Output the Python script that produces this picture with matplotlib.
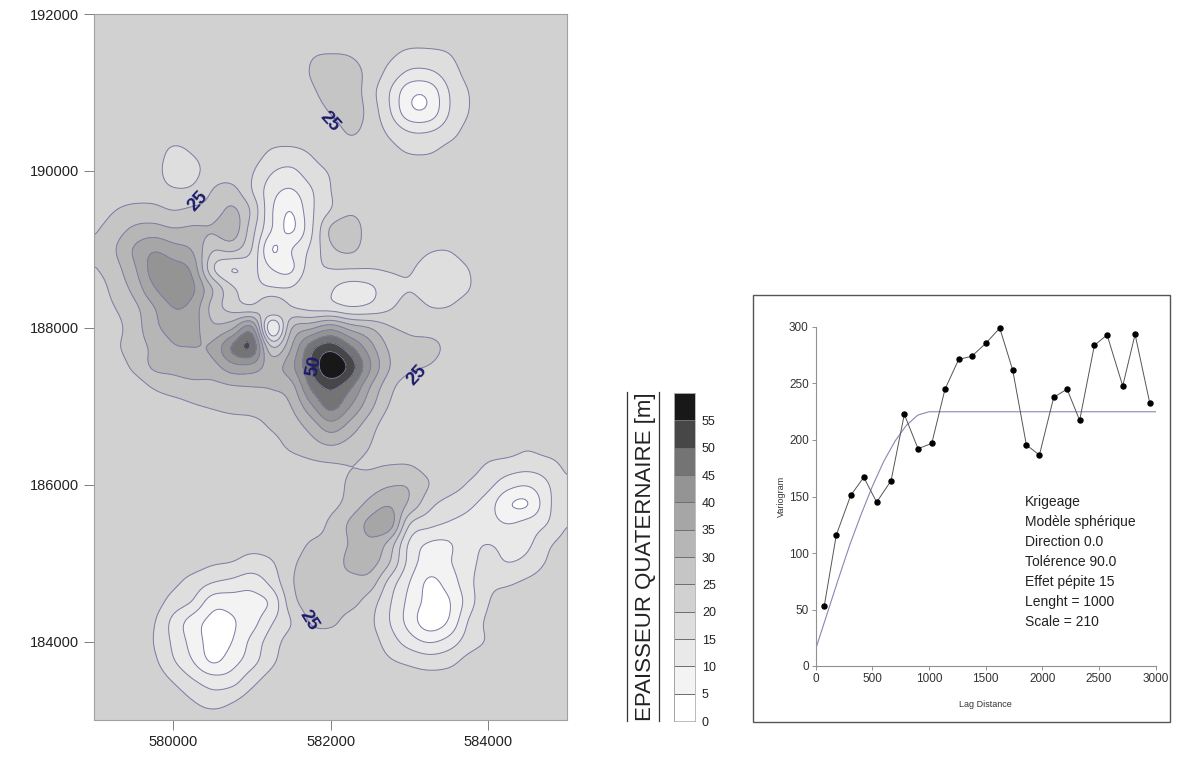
import numpy as np
import matplotlib
matplotlib.use('Agg')
from matplotlib import pyplot as plt
from matplotlib.colors import ListedColormap, BoundaryNorm
from matplotlib.lines import Line2D
from matplotlib.patches import Rectangle

plt.rcParams['font.family'] = ['Liberation Sans', 'DejaVu Sans']

# thickness every 250 m, top row is y=192000
grid_x = np.arange(579000, 585001, 250)
grid_y = np.arange(192000, 182999, -250)
thickness = [
    [22.5] * 25,
    [22.5] * 25,
    [22.5] * 11 + [24.5, 24.9, 24.5, 22.5, 21, 19, 19, 20, 22.5] + [22.5] * 5,
    [22.5] * 11 + [25.3, 28, 27.5, 23, 18.5, 14, 14, 17.5, 21.5] + [22.5] * 5,
    [22.5] * 11 + [24, 27.5, 28, 22, 15, 6.3, 6.3, 15, 20] + [22.5] * 5,
    [22.5] * 12 + [25.3, 28, 23, 15.5, 6.3, 6.3, 15, 20] + [22.5] * 5,
    [22.5] * 13 + [25.6, 23, 19, 15, 15, 18, 21.5] + [22.5] * 5,
    [22.5, 22.5, 22.5, 22.5, 19, 20.5, 22.5, 22.5, 22.5, 19.5, 19, 20.5, 22.5, 23, 22.5, 21.5, 19.5, 19.5, 21.5] + [22.5] * 6,
    [22.5, 22.5, 22.5, 22, 17.5, 18.5, 22.5, 22.5, 20.5, 15.5, 14, 18, 20.5] + [22.5] * 12,
    [22.5, 22.5, 22.5, 22.5, 20.6, 21, 25.2, 26.5, 20, 12, 9.5, 14.5, 20] + [22.5] * 12,
    [22.5, 24.8, 26.5, 26.5, 24.9, 26, 27, 31, 24, 10.5, 5, 14, 20, 24] + [22.5] * 11,
    [24.5, 27.5, 31, 32, 30.5, 31, 30.5, 33, 22, 10, 4, 14, 26, 28] + [22.5] * 11,
    [25.5, 29.5, 35.5, 39.5, 37, 34.5, 25.5, 26.5, 20, 4.5, 10, 16, 24, 26, 22.5, 22.5, 22.5, 20.5, 20.2, 22] + [22.5] * 5,
    [24.7, 28, 34, 42, 42, 38.5, 20.5, 14.5, 16.5, 10, 9, 18, 20, 20, 20, 20.5, 20.5, 18, 18, 20] + [22.5] * 5,
    [22.5, 26.5, 31.5, 39.5, 43, 41, 30, 21, 17, 15.5, 15.5, 19.5, 15.5, 13, 14, 18, 19.8, 18, 18, 19.8] + [22.5] * 5,
    [22.5, 24.8, 28.5, 34.5, 40, 38, 28, 23, 21.5, 25, 20.5, 18.5, 17.5, 15.5, 16.5, 19.5, 22, 20.2, 20.2, 22] + [22.5] * 5,
    [22.5, 23.5, 27.5, 33.5, 37, 37, 31, 34, 42, 9, 30, 34, 38.5, 33, 30, 25.5, 24] + [22.5] * 8,
    [22.5, 24, 27.5, 31, 34.5, 35, 36, 46, 50, 25, 35, 48, 53, 46, 37, 29, 26.5, 27, 23.5] + [22.5] * 6,
    [22.5, 22.5, 26, 30.8, 31.5, 32.5, 33, 38, 38, 33, 38.5, 50, 60, 53, 40.5, 30, 26, 24.7] + [22.5] * 7,
    [22.5, 22.5, 22.5, 25.5, 27.5, 28.5, 28.5, 29.5, 30, 30.5, 33, 46, 51, 46, 35, 26.5] + [22.5] * 9,
    [22.5, 22.5, 22.5, 22.5, 23, 24.5, 25.5, 26.5, 26.5, 27, 30, 39, 47, 40, 31.5, 24.5] + [22.5] * 9,
    [22.5] * 7 + [23, 23.8, 25.5, 27.5, 32, 38, 33, 27] + [22.5] * 10,
    [22.5] * 9 + [23.5, 26, 28, 30, 28, 25, 22.5, 22.5, 22.5, 22.5, 22.5, 22.5, 22.5, 20.8, 22.5, 22.5],
    [22.5] * 10 + [23, 24, 24.5, 25, 24.5, 25, 25, 23, 22.5, 22, 19.5, 18, 17, 18, 21],
    [22.5] * 13 + [26, 27.5, 29.5, 29.5, 25, 22.5, 19.5, 16.5, 12, 10.5, 14.5, 19.5],
    [22.5] * 12 + [23.5, 27, 31.5, 34.5, 29, 21.5, 18, 16, 12.5, 5.5, 4.5, 13.5, 19.5],
    [22.5] * 11 + [22.5, 26, 31, 36.5, 38, 20, 16.5, 14.5, 13.5, 12, 10, 12, 15, 20],
    [22.5] * 7 + [22, 21.5, 22, 22.5, 25.5, 26.5, 30.5, 34, 28, 14, 9.5, 9.5, 13.5, 15, 13.5, 14, 19, 21.5],
    [22.5] * 5 + [22, 20.5, 19.8, 18, 19.5, 24, 27, 27, 31.5, 32, 25, 13, 7.5, 9.5, 13.5, 16.5, 15, 16.5, 20.5, 22.5],
    [22.5] * 4 + [21, 18, 15, 13.5, 12, 16.5, 24.5, 27, 28, 28, 27.5, 18, 10, 4, 7, 13.5, 18.5, 19.3, 21, 22.5, 22.5],
    [22.5] * 3 + [22, 18, 14.5, 7, 7, 8, 11, 23, 27, 27, 26.5, 22.5, 15.5, 8.5, 3.5, 4.5, 12.5, 19.8, 22.5, 22.5, 22.5, 22.5],
    [22.5] * 3 + [20.5, 13.5, 7.5, 3.5, 4.5, 8, 14.5, 20, 25.5, 26, 23, 21, 15, 8, 2, 5.5, 15.5, 21, 22.5, 22.5, 22.5, 22.5],
    [22.5] * 3 + [20, 14, 8, 3, 5, 11.5, 17.5, 22, 22.5, 22.5, 22.5, 22, 17.5, 12.5, 9.5, 12, 17.5, 20.5, 22.5, 22.5, 22.5, 22.5],
    [22.5] * 3 + [21, 15.5, 10, 4.2, 8, 13, 19, 22.5, 22.5, 22.5, 22.5, 22.5, 20.5, 19, 17.5, 18.5, 21.5, 22.5, 22.5, 22.5, 22.5, 22.5],
    [22.5] * 4 + [19.7, 15.5, 12.5, 13, 18.5, 22] + [22.5] * 6 + [22, 22, 22] + [22.5] * 6,
    [22.5] * 5 + [20, 17.5, 19.5, 22] + [22.5] * 16,
    [22.5] * 25,
]

levels = [0, 5, 10, 15, 20, 25, 30, 35, 40, 45, 50, 55, 60]
band_colors = ['#ffffff', '#f3f3f3', '#e9e9e9', '#dedede', '#d1d1d1', '#c5c5c5',
               '#b6b6b6', '#a6a6a6', '#949494', '#747474', '#474747', '#181818']

contour_labels = ['25', '25', '50', '25', '25']
label_x = [581990, 580314, 581787, 583095, 581724]
label_y = [190623, 189616, 187513, 187398, 184275]
label_rot = [-48, 48, 78, 48, -58]

# variogram points
lag = [76, 182, 309, 424, 538, 665, 782, 903, 1024, 1141, 1262, 1376, 1500,
       1624, 1738, 1859, 1974, 2100, 2218, 2329, 2459, 2571, 2709, 2818, 2947]
vario = [53.4, 116, 151, 167, 145, 164, 222.7, 192.3, 197, 245, 271.4, 274, 285.5,
         299, 262, 195.6, 186.7, 237.8, 245, 217.4, 283.8, 293, 247.8, 293.5, 233]
model_lag = [0, 100, 200, 300, 400, 500, 600, 700, 800, 900, 1000, 3000]
model_val = [15, 46, 77, 107, 134, 159, 181, 199, 213, 222, 225, 225]
notes = ['Krigeage', 'Modèle sphérique', 'Direction 0.0', 'Tolérence 90.0',
         'Effet pépite 15', 'Lenght = 1000', 'Scale = 210']

W, H = 1178, 765


def px_axes(fig, left, top, right, bottom):
    return fig.add_axes([left / W, 1 - bottom / H, (right - left) / W, (bottom - top) / H])


def resample_rows(z, n):
    # catmull-rom between grid rows, only to get round contour lines
    p = np.vstack([z[:1], z, z[-1:]])
    out = []
    for i in range(1, len(p) - 2):
        for t in np.arange(n) / n:
            out.append(0.5 * (2 * p[i] + (p[i + 1] - p[i - 1]) * t
                              + (2 * p[i - 1] - 5 * p[i] + 4 * p[i + 1] - p[i + 2]) * t ** 2
                              + (3 * p[i] - p[i - 1] - 3 * p[i + 1] + p[i + 2]) * t ** 3))
    out.append(z[-1])
    return np.array(out)


def soften(z, w):
    # short box filter over both directions to take the kinks out of the lines
    k = np.ones(w) / w
    z = np.pad(z, w, mode='edge')
    z = np.apply_along_axis(lambda r: np.convolve(r, k, mode='same'), 0, z)
    z = np.apply_along_axis(lambda r: np.convolve(r, k, mode='same'), 1, z)
    return z[w:-w, w:-w]


fig = plt.figure(figsize=(W / 100, H / 100), dpi=100)

# map
ax = px_axes(fig, 94.5, 14, 567, 720)
n = 8
z_fine = resample_rows(np.array(thickness, dtype=float), n)
z_fine = resample_rows(z_fine.T, n).T
z_fine = soften(soften(z_fine, 3), 3)
z_fine = np.clip(z_fine, 0.2, 59.8)
x_fine = np.linspace(grid_x[0], grid_x[-1], z_fine.shape[1])
y_fine = np.linspace(grid_y[0], grid_y[-1], z_fine.shape[0])
ax.contourf(x_fine, y_fine, z_fine, levels=levels, colors=band_colors)
ax.contour(x_fine, y_fine, z_fine, levels=levels[1:-1], colors='#7c7ca4', linewidths=0.7)
for s, lx, ly, r in zip(contour_labels, label_x, label_y, label_rot):
    ax.text(lx, ly, s, color='#1b1b6b', fontsize=13.5, fontweight='bold', rotation=r, ha='center', va='center')
ax.set_xlim(579000, 585000)
ax.set_ylim(183000, 192000)
ax.set_xticks([580000, 582000, 584000])
ax.set_yticks([184000, 186000, 188000, 190000, 192000])
ax.tick_params(length=7, width=0.7, color='#808080', labelsize=10.5, labelcolor='#222222', pad=4)
for sp in ax.spines.values():
    sp.set_color('#a0a0a0')
    sp.set_linewidth(0.8)

# colour scale
cax = px_axes(fig, 674, 393, 695, 721)
cmap = ListedColormap(band_colors)
norm = BoundaryNorm(levels, cmap.N)
cax.pcolormesh([0, 1], levels, np.array(levels[:-1]).reshape(-1, 1) + 2.5, cmap=cmap, norm=norm,
               edgecolors='#707070', linewidth=0.4)
cax.set_xticks([])
cax.yaxis.tick_right()
cax.set_yticks(levels[:-1])
cax.tick_params(length=0, labelsize=9, pad=5, labelcolor='#222222')
cax.set_ylim(0, 60)
for sp in cax.spines.values():
    sp.set_color('#b0b0b0')
    sp.set_linewidth(0.6)

fig.text(645 / W, 1 - 557 / H, 'EPAISSEUR QUATERNAIRE [m]', rotation=90, ha='center', va='center',
         fontsize=16, color='#222222')
for xl in [627, 659]:
    fig.add_artist(Line2D([xl / W, xl / W], [1 - 392 / H, 1 - 721 / H], color='#333333', lw=0.9))

# variogram
fig.add_artist(Rectangle((753 / W, 1 - 722 / H), 417 / W, 427 / H, fill=False, edgecolor='#555555',
                         linewidth=1.0, transform=fig.transFigure))
vax = px_axes(fig, 815.7, 327, 1155.7, 666)
vax.plot(model_lag, model_val, color='#8888b0', lw=0.8)
vax.plot(lag, vario, color='#555555', lw=0.7, marker='o', ms=3.6, mfc='black', mec='black', clip_on=False)
vax.set_xlim(0, 3000)
vax.set_ylim(0, 300)
vax.set_xticks(range(0, 3001, 500))
vax.set_yticks(range(0, 301, 50))
vax.tick_params(length=3, width=0.6, color='#808080', labelsize=8.5, labelcolor='#333333', pad=2)
vax.spines['top'].set_visible(False)
vax.spines['right'].set_visible(False)
vax.spines['left'].set_color('#909090')
vax.spines['bottom'].set_color('#909090')
vax.set_xlabel('Lag Distance', fontsize=6.5, labelpad=11, color='#333333')
vax.set_ylabel('Variogram', fontsize=6.5, labelpad=2, color='#333333')
for i, s in enumerate(notes):
    vax.text(1847, 145.4 - i * 17.7, s, fontsize=10, va='center', color='#222222')

fig.savefig('out.png', dpi=100)
